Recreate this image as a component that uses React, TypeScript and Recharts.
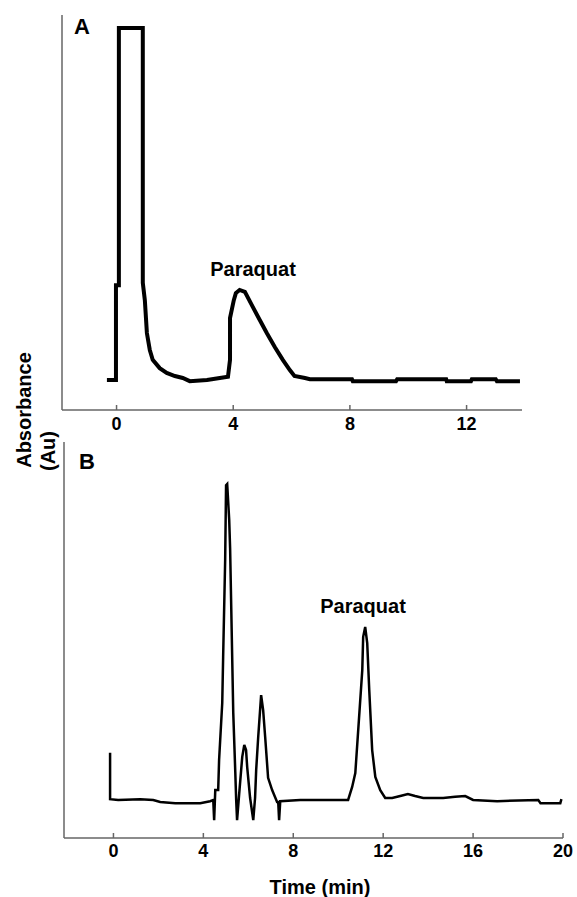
import { LineChart, Line, XAxis, YAxis } from "recharts";

// Panel A — retention time (min) and absorbance (relative units, 0-100 of axis height)
const timeA = [
  -0.33, -0.02, -0.02, 0.08, 0.08, 0.9, 0.9, 0.97, 1.04, 1.14, 1.24, 1.48, 1.72, 2.0, 2.27, 2.51,
  3.1, 3.54, 3.82, 3.89, 3.89, 4.02, 4.09, 4.22, 4.4, 4.67, 4.91, 5.15, 5.43, 5.7, 5.94, 6.1,
  6.46, 6.63, 8.07, 8.1, 9.58, 9.62, 11.3, 11.32, 12.15, 12.18, 13.0, 13.04, 13.83,
];
const absA = [
  7.6, 7.6, 31.6, 31.6, 96.7, 96.7, 32.2, 27.8, 19.5, 15.2, 12.7, 10.6, 9.4, 8.6, 8.1, 7.3,
  7.6, 8.1, 8.4, 12.7, 23.3, 27.8, 29.6, 30.4, 29.9, 26.1, 22.8, 19.5, 15.9, 12.7, 10.1, 8.6,
  8.1, 7.8, 7.8, 7.3, 7.3, 7.8, 7.8, 7.3, 7.3, 7.8, 7.8, 7.3, 7.3,
];

// Panel B
const timeB = [
  -0.15, -0.15, 0.21, 1.19, 1.77, 2.08, 2.75, 3.86, 4.3, 4.44, 4.48, 4.53, 4.66, 4.7, 4.84, 4.88,
  4.97, 5.01, 5.06, 5.15, 5.19, 5.33, 5.42, 5.46, 5.5, 5.59, 5.73, 5.82, 5.9, 5.95, 6.08, 6.22,
  6.3, 6.35, 6.44, 6.57, 6.66, 6.75, 6.88, 7.06, 7.28, 7.33, 7.37, 7.42, 8.31, 10.44, 10.62,
  10.76, 10.89, 11.07, 11.11, 11.2, 11.29, 11.38, 11.51, 11.65, 11.87, 12.09, 12.4, 12.76, 13.1,
  13.42, 13.78, 14.67, 15.2, 15.65, 16.0, 17.07, 18.9, 19.0, 19.88, 19.93,
];
const absB = [
  21.5, 9.8, 9.6, 9.8, 9.6, 9.1, 8.8, 8.8, 9.3, 9.6, 4.5, 12.1, 12.1, 19.7, 34.1, 45.7,
  70.2, 89.1, 89.4, 80.3, 73.2, 31.6, 16.7, 9.6, 4.5, 10.9, 20.5, 23.5, 22.2, 17.9, 10.1, 4.5,
  10.1, 17.2, 25.5, 36.1, 32.3, 25.5, 15.2, 12.1, 9.1, 9.1, 4.5, 9.3, 9.6, 9.6, 12.9,
  16.4, 27.3, 42.4, 50.8, 53.3, 49.2, 37.4, 22.2, 15.4, 12.1, 10.1, 10.1, 10.6, 11.1,
  10.6, 10.1, 10.1, 10.4, 10.6, 9.6, 9.3, 9.6, 8.8, 8.8, 9.8,
];

const ticksA = [0, 4, 8, 12];
const ticksB = [0, 4, 8, 12, 16, 20];

const dataA = timeA.map((t, i) => ({ t, v: absA[i] }));
const dataB = timeB.map((t, i) => ({ t, v: absB[i] }));

const FONT = "'Liberation Sans', Arial, Helvetica, sans-serif";
const AXIS = "#666";

// bold tick labels, y is the top of the label
const BoldTick = ({ x, y, payload }: any) => (
  <text
    x={x}
    y={y + 13}
    textAnchor="middle"
    fontFamily={FONT}
    fontSize={18}
    fontWeight="bold"
    fill="#000"
  >
    {payload.value}
  </text>
);

function Txt({ x, y, size, rotate, children }: any) {
  return (
    <div
      style={{
        position: "absolute",
        left: x,
        top: y,
        transform: `translate(-50%, -50%)${rotate ? " rotate(-90deg)" : ""}`,
        fontFamily: FONT,
        fontWeight: "bold",
        fontSize: size,
        lineHeight: 1,
        whiteSpace: "nowrap",
        color: "#000",
      }}
    >
      {children}
    </div>
  );
}

export default function App() {
  return (
    <div style={{ position: "absolute", left: 0, top: 0, width: 577, height: 897, background: "#fff" }}>
      <div style={{ position: "absolute", left: 0, top: 0 }}>
        <LineChart width={577} height={440} data={dataA} margin={{ top: 15, right: 55, bottom: 0, left: 2 }}>
          <XAxis
            dataKey="t"
            type="number"
            domain={[-1.87, 13.9]}
            ticks={ticksA}
            allowDataOverflow
            height={30}
            tickSize={-5}
            tickMargin={12}
            axisLine={{ stroke: AXIS, strokeWidth: 1.5 }}
            tickLine={{ stroke: AXIS, strokeWidth: 1.5 }}
            tick={<BoldTick />}
          />
          <YAxis
            type="number"
            domain={[0, 100]}
            width={60}
            tick={false}
            tickLine={false}
            axisLine={{ stroke: AXIS, strokeWidth: 1.5 }}
          />
          <Line
            dataKey="v"
            type="linear"
            stroke="#000"
            strokeWidth={4}
            strokeLinejoin="miter"
            dot={false}
            isAnimationActive={false}
          />
        </LineChart>
      </div>

      <div style={{ position: "absolute", left: 0, top: 430 }}>
        <LineChart width={577} height={438} data={dataB} margin={{ top: 12, right: 14, bottom: 0, left: 4 }}>
          <XAxis
            dataKey="t"
            type="number"
            domain={[-2.2, 20]}
            ticks={ticksB}
            allowDataOverflow
            height={30}
            tickSize={-5}
            tickMargin={11}
            axisLine={{ stroke: AXIS, strokeWidth: 1.5 }}
            tickLine={{ stroke: AXIS, strokeWidth: 1.5 }}
            tick={<BoldTick />}
          />
          <YAxis
            type="number"
            domain={[0, 100]}
            width={60}
            tick={false}
            tickLine={false}
            axisLine={{ stroke: AXIS, strokeWidth: 1.5 }}
          />
          <Line
            dataKey="v"
            type="linear"
            stroke="#000"
            strokeWidth={2.5}
            strokeLinejoin="miter"
            dot={false}
            isAnimationActive={false}
          />
        </LineChart>
      </div>

      <Txt x={82} y={27} size={22}>A</Txt>
      <Txt x={87} y={462} size={22}>B</Txt>
      <Txt x={253} y={269} size={20}>Paraquat</Txt>
      <Txt x={363} y={606} size={20}>Paraquat</Txt>
      <Txt x={24} y={410} size={20} rotate>Absorbance</Txt>
      <Txt x={48} y={451} size={20} rotate>(Au)</Txt>
      <Txt x={320} y={887} size={20}>Time (min)</Txt>
    </div>
  );
}
